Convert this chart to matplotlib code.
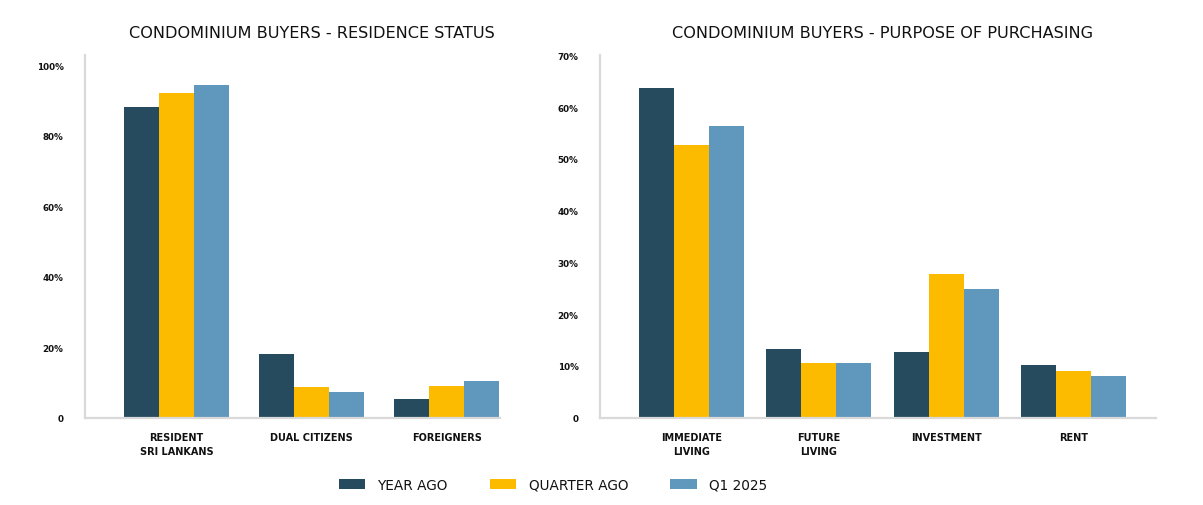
import matplotlib
matplotlib.use('Agg')
import matplotlib.pyplot as plt
import numpy as np

# data
residence_cats = ['RESIDENT\nSRI LANKANS', 'DUAL CITIZENS', 'FOREIGNERS']
residence_year_ago = [88.2, 18.0, 5.2]
residence_quarter_ago = [92.2, 8.7, 9.0]
residence_q1_2025 = [94.5, 7.2, 10.4]
residence_ticks = [0, 20, 40, 60, 80, 100]

purpose_cats = ['IMMEDIATE\nLIVING', 'FUTURE\nLIVING', 'INVESTMENT', 'RENT']
purpose_year_ago = [63.7, 13.2, 12.7, 10.2]
purpose_quarter_ago = [52.7, 10.5, 27.8, 9.0]
purpose_q1_2025 = [56.4, 10.5, 24.9, 8.0]
purpose_ticks = [0, 10, 20, 30, 40, 50, 60, 70]

series_names = ['YEAR AGO', 'QUARTER AGO', 'Q1 2025']
colors = ['#264B5E', '#FDBB00', '#6097BC']
axis_grey = '#D9D9D9'

W, H = 1203, 506
fig = plt.figure(figsize=(W / 100, H / 100), dpi=100)


def pct(v):
    return '0' if v == 0 else f'{v}%'


def draw_panel(rect, cats, series, ticks, ylim, xlim, width, title, title_x):
    ax = fig.add_axes(rect)
    x = np.arange(len(cats))
    bars = []
    for i, vals in enumerate(series):
        b = ax.bar(x + (i - 1) * width, vals, width, color=colors[i], label=series_names[i])
        bars.append(b)
    ax.set_xlim(*xlim)
    ax.set_ylim(*ylim)
    ax.set_xticks(x)
    ax.set_xticklabels(cats, fontsize=7, fontweight='bold', color='#111111', linespacing=1.5)
    ax.set_yticks(ticks)
    ax.set_yticklabels([pct(t) for t in ticks], fontsize=6.3, fontweight='bold', color='#111111')
    ax.tick_params(axis='both', length=0)
    ax.tick_params(axis='y', pad=15.5)
    ax.tick_params(axis='x', pad=10.5)
    for s in ['top', 'right']:
        ax.spines[s].set_visible(False)
    for s in ['left', 'bottom']:
        ax.spines[s].set_color(axis_grey)
        ax.spines[s].set_linewidth(1.6)
    fig.text(title_x / W, 1 - 34 / H, title, ha='center', va='center',
             fontsize=11.6, color='#111111')
    return bars


left_rect = [85 / W, 1 - 418.5 / H, 415 / W, 362.5 / H]
bars = draw_panel(left_rect, residence_cats,
                  [residence_year_ago, residence_quarter_ago, residence_q1_2025],
                  residence_ticks, (0, 103), (-0.678, 2.395), 0.26,
                  'CONDOMINIUM BUYERS - RESIDENCE STATUS', 312)

right_rect = [600 / W, 1 - 418.5 / H, 556 / W, 362.5 / H]
draw_panel(right_rect, purpose_cats,
           [purpose_year_ago, purpose_quarter_ago, purpose_q1_2025],
           purpose_ticks, (0, 70.1), (-0.716, 3.645), 0.275,
           'CONDOMINIUM BUYERS - PURPOSE OF PURCHASING', 883)

leg = fig.legend(handles=bars, labels=series_names, loc='center', ncol=3,
                 bbox_to_anchor=(553 / W, 1 - 486 / H), frameon=False,
                 prop={'size': 9.8},
                 handlelength=1.95, handleheight=0.75, handletextpad=0.9,
                 columnspacing=3.1)
for t in leg.get_texts():
    t.set_color('#111111')

fig.savefig('out.png', dpi=100, facecolor='white')
